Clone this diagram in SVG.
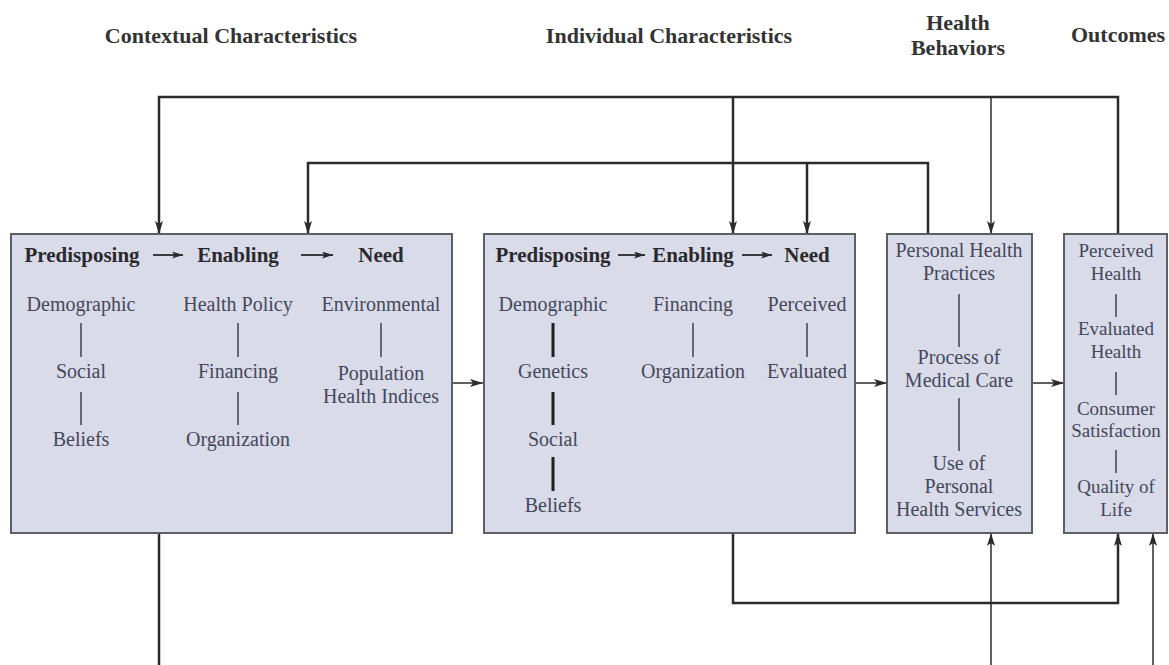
<svg xmlns="http://www.w3.org/2000/svg" width="1169" height="665" viewBox="0 0 1169 665">
<style>
.hdr{font-family:"Liberation Serif","Times New Roman",serif;font-size:22px;font-weight:bold;fill:#333;text-anchor:middle}
.ttl{font-family:"Liberation Serif","Times New Roman",serif;font-size:21px;font-weight:bold;fill:#2a2a2e;text-anchor:middle}
.itm{font-family:"Liberation Serif","Times New Roman",serif;font-size:20px;fill:#45475a;text-anchor:middle}
.sm{font-size:19px}
.box{fill:#d9dbe9;stroke:#5e5e66;stroke-width:2}
.sep{stroke:#4a4a55;stroke-width:1.6}
.sepb{stroke:#1e1e24;stroke-width:3}
.con{fill:none;stroke:#2b2b2b;stroke-width:2.5}
.thin{fill:none;stroke:#2b2b2b;stroke-width:1.5}
.inar{fill:none;stroke:#2a2a2e;stroke-width:1.8}
</style>
<defs>
<marker id="arr" markerUnits="userSpaceOnUse" markerWidth="13" markerHeight="8" refX="13" refY="4" orient="auto">
<path d="M0,0 L13,4 L0,8 L3,4 z" fill="#2b2b2b"/>
</marker>
<marker id="arrS" markerUnits="userSpaceOnUse" markerWidth="11" markerHeight="7" refX="11" refY="3.5" orient="auto">
<path d="M0,0 L11,3.5 L0,7 L2.5,3.5 z" fill="#2a2a2e"/>
</marker>
</defs>

<g id="headers">
<text class="hdr" x="231" y="43">Contextual Characteristics</text>
<text class="hdr" x="669" y="43">Individual Characteristics</text>
<text class="hdr" x="958" y="30">Health</text>
<text class="hdr" x="958" y="55">Behaviors</text>
<text class="hdr" x="1118" y="42">Outcomes</text>
</g>

<g id="connectors">
<path class="con" d="M1118,234 V97 H159 V234" marker-end="url(#arr)"/>
<path class="con" d="M733,97 V234" marker-end="url(#arr)"/>
<path class="thin" d="M991,97 V234" marker-end="url(#arr)"/>
<path class="con" d="M928,234 V163 H308 V234" marker-end="url(#arr)"/>
<path class="con" d="M807,163 V234" marker-end="url(#arr)"/>
<path class="thin" d="M452,383 H483" marker-end="url(#arr)"/>
<path class="thin" d="M855,383 H887" marker-end="url(#arr)"/>
<path class="thin" d="M1032,383 H1064" marker-end="url(#arr)"/>
<path class="con" d="M159,533 V665"/>
<path class="con" d="M733,533 V603 H1118 V533" marker-end="url(#arr)"/>
<path class="thin" d="M991,665 V533" marker-end="url(#arr)"/>
<path class="thin" d="M1153,665 V533" marker-end="url(#arr)"/>
</g>

<g id="contextual">
<rect class="box" x="11" y="234" width="441" height="299"/>
<text class="ttl" x="82" y="262">Predisposing</text>
<path class="inar" d="M153,255 H183" marker-end="url(#arrS)"/>
<text class="ttl" x="238" y="262">Enabling</text>
<path class="inar" d="M301,255 H333" marker-end="url(#arrS)"/>
<text class="ttl" x="381" y="262">Need</text>
<text class="itm" x="81" y="311">Demographic</text>
<line class="sep" x1="81" y1="323" x2="81" y2="357"/>
<text class="itm" x="81" y="378">Social</text>
<line class="sep" x1="81" y1="392" x2="81" y2="425"/>
<text class="itm" x="81" y="446">Beliefs</text>
<text class="itm" x="238" y="311">Health Policy</text>
<line class="sep" x1="238" y1="323" x2="238" y2="357"/>
<text class="itm" x="238" y="378">Financing</text>
<line class="sep" x1="238" y1="392" x2="238" y2="425"/>
<text class="itm" x="238" y="446">Organization</text>
<text class="itm" x="381" y="311">Environmental</text>
<line class="sep" x1="381" y1="323" x2="381" y2="357"/>
<text class="itm" x="381" y="380">Population</text>
<text class="itm" x="381" y="403">Health Indices</text>
</g>

<g id="individual">
<rect class="box" x="484" y="234" width="371" height="299"/>
<text class="ttl" x="553" y="262">Predisposing</text>
<path class="inar" d="M618,255 H645" marker-end="url(#arrS)"/>
<text class="ttl" x="693" y="262">Enabling</text>
<path class="inar" d="M742,255 H772" marker-end="url(#arrS)"/>
<text class="ttl" x="807" y="262">Need</text>
<text class="itm" x="553" y="311">Demographic</text>
<line class="sepb" x1="553" y1="323" x2="553" y2="357"/>
<text class="itm" x="553" y="378">Genetics</text>
<line class="sepb" x1="553" y1="392" x2="553" y2="425"/>
<text class="itm" x="553" y="446">Social</text>
<line class="sepb" x1="553" y1="457" x2="553" y2="491"/>
<text class="itm" x="553" y="512">Beliefs</text>
<text class="itm" x="693" y="311">Financing</text>
<line class="sep" x1="693" y1="323" x2="693" y2="357"/>
<text class="itm" x="693" y="378">Organization</text>
<text class="itm" x="807" y="311">Perceived</text>
<line class="sep" x1="807" y1="323" x2="807" y2="357"/>
<text class="itm" x="807" y="378">Evaluated</text>
</g>

<g id="health-behaviors">
<rect class="box" x="887" y="234" width="145" height="299"/>
<text class="itm" x="959" y="257">Personal Health</text>
<text class="itm" x="959" y="280">Practices</text>
<line class="sep" x1="959" y1="294" x2="959" y2="347"/>
<text class="itm" x="959" y="364">Process of</text>
<text class="itm" x="959" y="387">Medical Care</text>
<line class="sep" x1="959" y1="398" x2="959" y2="451"/>
<text class="itm" x="959" y="470">Use of</text>
<text class="itm" x="959" y="493">Personal</text>
<text class="itm" x="959" y="516">Health Services</text>
</g>

<g id="outcomes">
<rect class="box" x="1064" y="234" width="103" height="299"/>
<text class="itm sm" x="1116" y="257">Perceived</text>
<text class="itm sm" x="1116" y="280">Health</text>
<line class="sep" x1="1116" y1="294" x2="1116" y2="317"/>
<text class="itm sm" x="1116" y="335">Evaluated</text>
<text class="itm sm" x="1116" y="358">Health</text>
<line class="sep" x1="1116" y1="372" x2="1116" y2="395"/>
<text class="itm sm" x="1116" y="415">Consumer</text>
<text class="itm sm" x="1116" y="437">Satisfaction</text>
<line class="sep" x1="1116" y1="450" x2="1116" y2="473"/>
<text class="itm sm" x="1116" y="493">Quality of</text>
<text class="itm sm" x="1116" y="516">Life</text>
</g>
</svg>
